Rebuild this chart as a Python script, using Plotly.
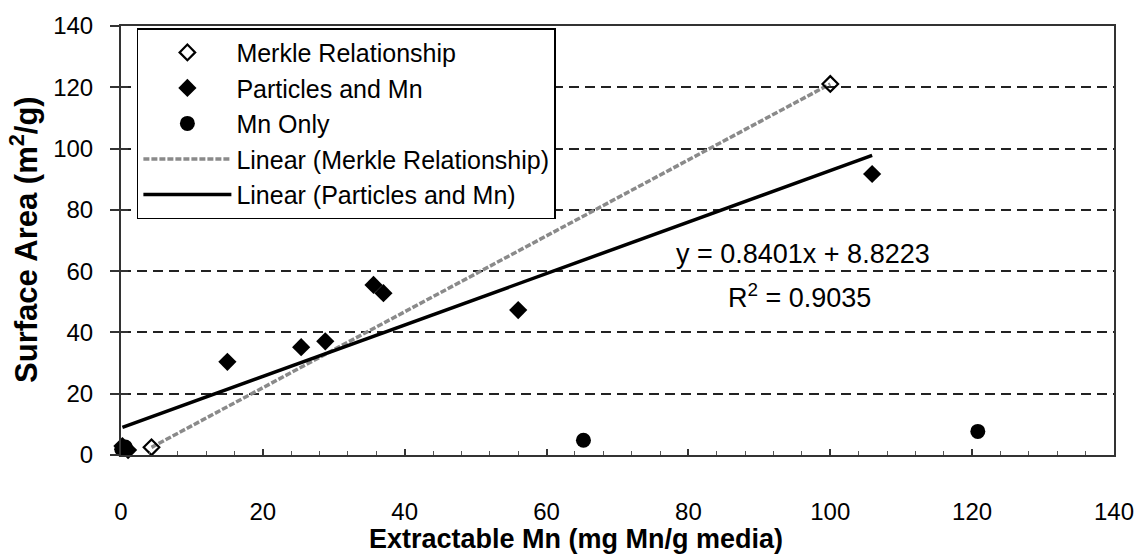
import plotly.graph_objects as go

# ---- data ----
merkle_x = [4.3, 100.0]
merkle_y = [2.5, 121.1]

particles_x = [0.2, 1.0, 15.0, 25.4, 28.8, 35.6, 37.0, 56.0, 105.9]
particles_y = [2.9, 1.6, 30.4, 35.2, 37.1, 55.5, 52.8, 47.3, 91.7]

mn_only_x = [0.1, 0.6, 65.2, 120.8]
mn_only_y = [1.9, 2.6, 4.8, 7.7]

trend_slope = 0.8401
trend_intercept = 8.8223
trend_r2 = 0.9035

x_ticks = [0, 20, 40, 60, 80, 100, 120, 140]
y_ticks = [0, 20, 40, 60, 80, 100, 120, 140]

FONT = "Liberation Sans, Arial, sans-serif"

# trendline spans the particle data range
tx0, tx1 = min(particles_x), max(particles_x)
trend_x = [tx0, tx1]
trend_y = [trend_slope * v + trend_intercept for v in trend_x]

fig = go.Figure()

# lines first (drawn below markers), legend order via legendrank
fig.add_trace(go.Scatter(
    x=merkle_x, y=merkle_y, mode="lines", name="Linear (Merkle Relationship)",
    line=dict(color="#8a8a8a", width=3.5, dash="6px,2px"), legendgroup="d", legendrank=4))
fig.add_trace(go.Scatter(
    x=trend_x, y=trend_y, mode="lines", name="Linear (Particles and Mn)",
    line=dict(color="black", width=3.5), legendgroup="e", legendrank=5))
fig.add_trace(go.Scatter(
    x=merkle_x, y=merkle_y, mode="markers", name="Merkle Relationship",
    marker=dict(symbol="diamond-open", size=12, color="black", line=dict(width=2.2, color="black")),
    cliponaxis=False, legendgroup="a", legendrank=1))
fig.add_trace(go.Scatter(
    x=particles_x, y=particles_y, mode="markers", name="Particles and Mn",
    marker=dict(symbol="diamond", size=14, color="black"),
    cliponaxis=False, legendgroup="b", legendrank=2))
fig.add_trace(go.Scatter(
    x=mn_only_x, y=mn_only_y, mode="markers", name="Mn Only",
    marker=dict(symbol="circle", size=15, color="black"),
    cliponaxis=False, legendgroup="c", legendrank=3))

fig.add_annotation(x=96.2, y=65.6, xref="x", yref="y", xanchor="center", yanchor="middle",
                   text="y = 0.8401x + 8.8223", showarrow=False,
                   font=dict(family=FONT, size=27, color="black"))
fig.add_annotation(x=95.6, y=51.8, xref="x", yref="y", xanchor="center", yanchor="middle",
                   text="R<sup>2</sup> = %.4f" % trend_r2, showarrow=False,
                   font=dict(family=FONT, size=27, color="black"))

fig.add_annotation(x=0.458, y=-0.236, xref="paper", yref="paper",
                   xanchor="center", yanchor="bottom",
                   text="<b>Extractable Mn (mg Mn/g media)</b>", showarrow=False,
                   font=dict(family=FONT, size=27, color="black"))
fig.add_annotation(x=-0.097, y=0.503, xref="paper", yref="paper", textangle=-90,
                   xanchor="center", yanchor="middle",
                   text="<b>Surface Area (m<sup>2</sup>/g)</b>", showarrow=False,
                   font=dict(family=FONT, size=31, color="black"))

fig.update_layout(
    width=1146, height=558,
    margin=dict(l=121, r=26, t=17, b=103),
    paper_bgcolor="white", plot_bgcolor="white",
    font=dict(family=FONT, size=24, color="black"),
    showlegend=True,
    legend=dict(x=0.016, y=0.995, xanchor="left", yanchor="top",
                bgcolor="white", bordercolor="black", borderwidth=1.5,
                font=dict(family=FONT, size=25, color="black"),
                itemwidth=88, traceorder="normal", tracegroupgap=9),
    xaxis=dict(range=[0, 140], tickvals=x_ticks, ticktext=[str(v) for v in x_ticks],
               showgrid=False, zeroline=False,
               showline=True, linecolor="#333", linewidth=2, mirror=True,
               ticks="inside", ticklen=6, tickcolor="#333", tickwidth=1.5,
               ticklabelstandoff=34,
               minor=dict(dtick=4, tick0=0, ticks="inside", ticklen=4, tickcolor="#555", tickwidth=1.2),
               tickfont=dict(family=FONT, size=24, color="black")),
    yaxis=dict(range=[0, 140], tickvals=y_ticks, ticktext=[str(v) for v in y_ticks],
               showgrid=True, gridcolor="#222", gridwidth=1.6, griddash="10px,6px",
               zeroline=False,
               showline=True, linecolor="#333", linewidth=2, mirror=True,
               ticks="outside", ticklen=9, tickcolor="#333", tickwidth=1.5,
               ticklabelstandoff=12,
               tickfont=dict(family=FONT, size=24, color="black")),
    yaxis2=dict(range=[0, 140], overlaying="y", side="left", anchor="x",
                tickvals=y_ticks, showticklabels=False, showgrid=False, zeroline=False,
                showline=False, ticks="inside", ticklen=7, tickcolor="#333", tickwidth=1.5),
)

# invisible trace to activate yaxis2 (for crossing tick marks)
fig.add_trace(go.Scatter(x=[0], y=[0], yaxis="y2", mode="markers",
                         marker=dict(opacity=0), showlegend=False, hoverinfo="skip"))

fig.write_html("out.html")
